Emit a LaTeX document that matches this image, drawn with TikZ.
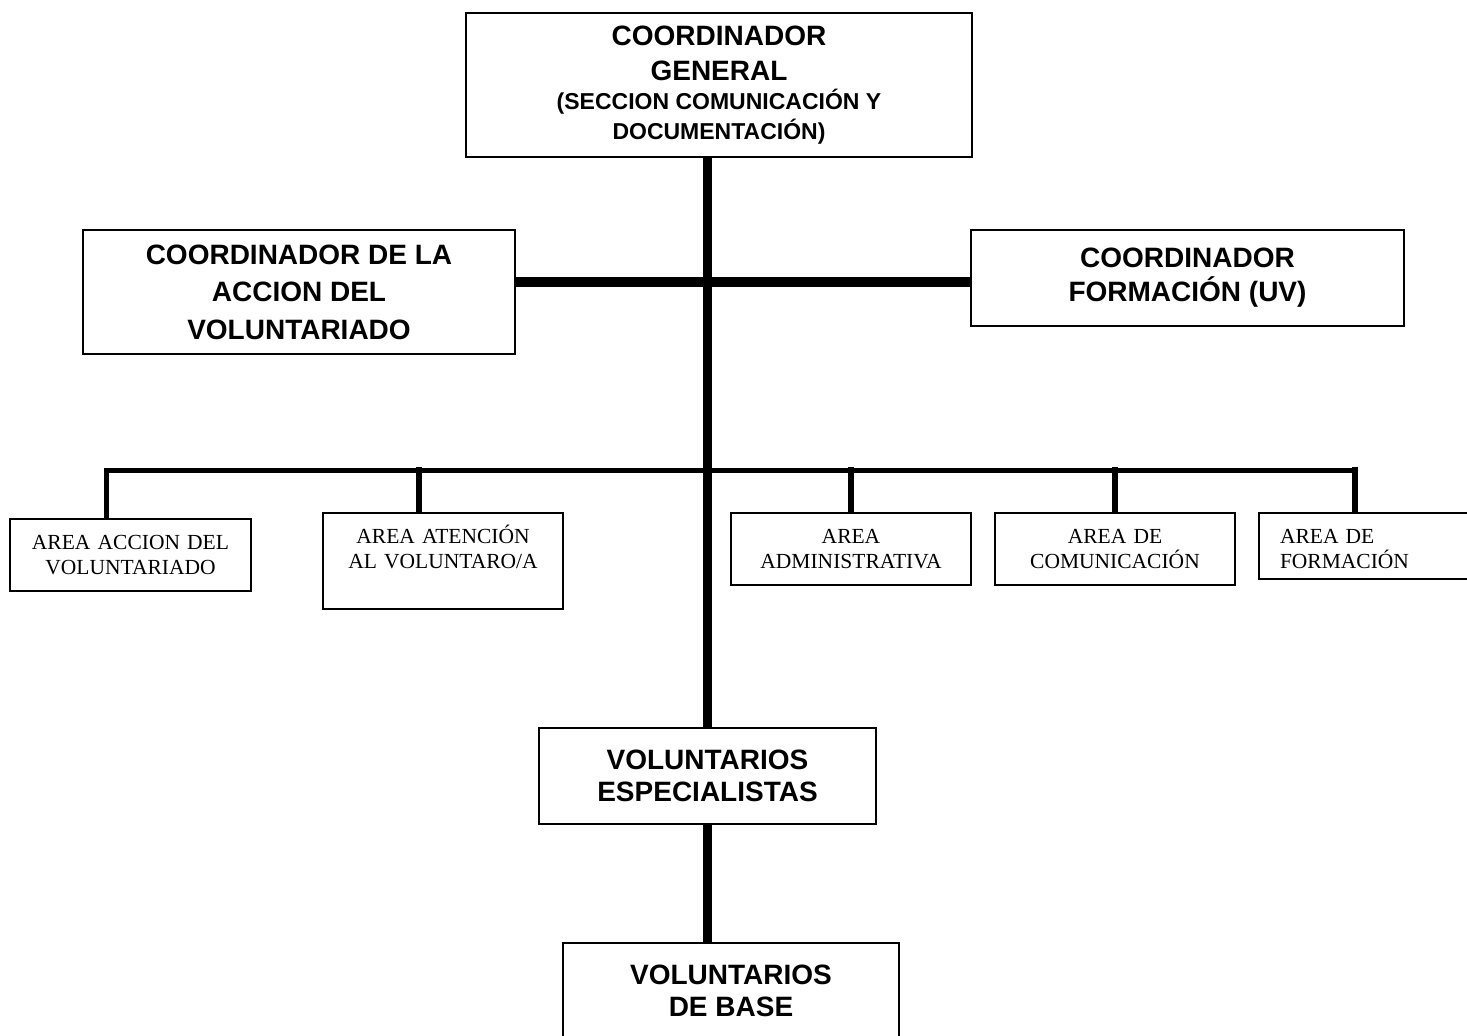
\documentclass[tikz,border=0pt]{standalone}
\usepackage{fontspec}
\setmainfont{Liberation Serif}
\newfontfamily\arialfont{Liberation Sans}

\begin{document}
\begin{tikzpicture}[x=0.5pt, y=-0.5pt,
    cargo/.style={draw, line width=1pt, align=center, inner sep=0pt,
      font=\arialfont\bfseries\fontsize{14pt}{#1}\selectfont},
    cargo/.default=17pt,
    area/.style={draw, line width=1pt, anchor=north, inner sep=0pt, text width=#1,
      align=center, text height=15pt, font=\fontsize{10.75pt}{12.5pt}\selectfont},
    tronco/.style={line width=4.5pt},
    rama/.style={line width=2.8pt}]
    \useasboundingbox (0,0) rectangle (1467,1035);
    \clip (0,0) rectangle (1467,1035);

    % cargos
    \node[cargo=17.5pt, minimum width=253pt, minimum height=72pt] (general) at (719,85)
      {COORDINADOR\\GENERAL\\[-3pt]{\fontsize{11.5pt}{13pt}\selectfont (SECCION COMUNICACIÓN Y}\\[-2.5pt]{\fontsize{11.5pt}{13pt}\selectfont DOCUMENTACIÓN)}};
    \node[cargo=18.75pt, minimum width=216pt, minimum height=62pt] (accion) at (299,292)
      {COORDINADOR DE LA\\ACCION DEL\\VOLUNTARIADO};
    \node[cargo, minimum width=216.5pt, minimum height=48pt] (formacion) at (1187.5,278)
      {COORDINADOR\\FORMACIÓN (UV)};
    \node[cargo=15.75pt, minimum width=168.5pt, minimum height=48pt] (especialistas) at (707.5,776)
      {VOLUNTARIOS\\ESPECIALISTAS};
    \node[cargo=16pt, minimum width=168pt, minimum height=48pt] (base) at (731,991)
      {VOLUNTARIOS\\DE BASE};

    % areas
    \node[area=120.5pt, text depth=21pt] (a1) at (130.5,518) {AREA ACCION DEL\\VOLUNTARIADO};
    \node[area=120pt, text depth=33pt] (a2) at (443,512) {AREA ATENCIÓN\\AL VOLUNTARO/A};
    \node[area=120pt, text depth=21pt] (a3) at (851,512) {AREA\\ADMINISTRATIVA};
    \node[area=120pt, text depth=21pt] (a4) at (1115,512) {AREA DE\\COMUNICACIÓN};
    \node[area=99pt, text depth=18pt, inner xsep=10.5pt, align=left] (a5) at (1379,512) {AREA DE\\FORMACIÓN};

    % lineas
    \coordinate (cruce) at (707.5,282);
    \coordinate (t1) at (106.5,470.5);
    \coordinate (t2) at (419,470.5);
    \coordinate (t5) at (1355,470.5);
    \draw[tronco] (general.south -| especialistas.north) -- (especialistas.north);
    \draw[tronco, line width=5pt] (accion.east |- cruce) -- (formacion.west |- cruce);
    \draw[tronco] (especialistas.south) -- (especialistas.south |- base.north);
    \draw[rama] (a1.north -| t1) -- (t1) -- (t5);
    \draw[rama] ([yshift=2pt]t2) -- (a2.north -| t2);
    \draw[rama] ([yshift=2pt]a3.north |- t1) -- (a3.north);
    \draw[rama] ([yshift=2pt]a4.north |- t1) -- (a4.north);
    \draw[rama] ([yshift=2pt]t5) -- (a5.north -| t5);
\end{tikzpicture}
\end{document}
